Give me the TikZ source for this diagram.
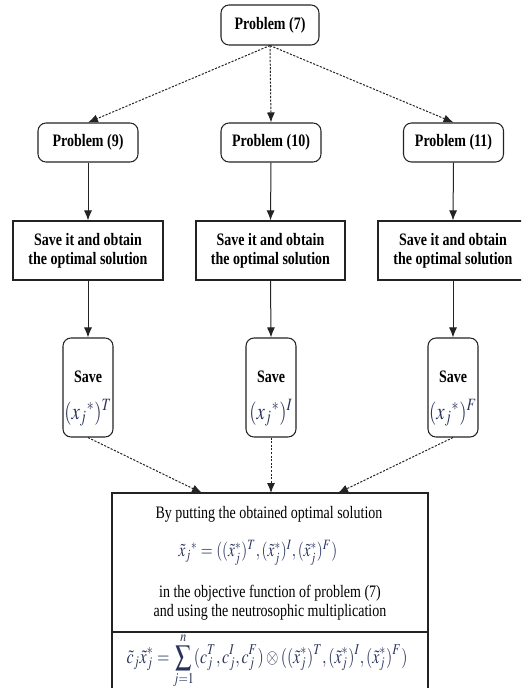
\documentclass[tikz,border=0pt]{standalone}
\usepackage{mathptmx}
\usepackage{fontspec}
\setmainfont{Liberation Serif}
\usepackage{graphicx}
\usetikzlibrary{arrows.meta}
\definecolor{mathc}{RGB}{40,50,90}
\definecolor{edgec}{RGB}{35,35,35}
\newcommand\vs[1]{\scalebox{1}[1.25]{#1}}
\tikzset{
  rbox/.style={draw=edgec, line width=0.8pt, rounded corners=6pt, inner sep=0pt, font=\fontsize{10.5}{14}\selectfont\bfseries, align=center},
  sqbox/.style={draw=edgec, line width=0.8pt, inner sep=0pt, font=\fontsize{10.5}{14.25}\selectfont\bfseries, align=center},
  plainbox/.style={draw=edgec, line width=0.8pt, inner sep=0pt},
  txt/.style={inner sep=0pt, font=\fontsize{10.5}{14}\selectfont},
  mth/.style={inner sep=0pt, text=mathc, font=\fontsize{11.5}{14}\selectfont},
  arr/.style={-{Latex[length=7.5pt,width=6pt]}, line width=0.75pt, draw=edgec},
  darr/.style={arr, dash pattern=on 1.6pt off 1.1pt},
}
\begin{document}
\begin{tikzpicture}[x=0.75pt, y=-0.75pt]
\useasboundingbox (0,0) rectangle (521,688);
\clip (0,0) rectangle (521,688);
% top
\node[rbox, minimum width=73.5pt, minimum height=30pt] (p7) at (270,25) {\vs{Problem (7)}};
% problems
\node[rbox, minimum width=75pt, minimum height=29.25pt] (p9) at (88,142.5) {\vs{Problem (9)}};
\node[rbox, minimum width=75pt, minimum height=29.25pt] (p10) at (271,142.5) {\vs{Problem (10)}};
\node[rbox, minimum width=75pt, minimum height=29.25pt] (p11) at (453.5,142.5) {\vs{Problem (11)}};
% save it boxes
\node[sqbox, minimum width=112.5pt, minimum height=44.25pt] (s1) at (88,250.5) {\vs{Save it and obtain}\\\vs{the optimal solution}};
\node[sqbox, minimum width=111.75pt, minimum height=44.25pt] (s2) at (270.5,250.5) {\vs{Save it and obtain}\\\vs{the optimal solution}};
\node[sqbox, minimum width=112.5pt, minimum height=44.25pt] (s3) at (453,250.5) {\vs{Save it and obtain}\\\vs{the optimal solution}};
% save boxes
\node[rbox, minimum width=37.5pt, minimum height=74.25pt] (v1) at (88,387.5) {};
\node[rbox, minimum width=37.5pt, minimum height=74.25pt] (v2) at (271,387.5) {};
\node[rbox, minimum width=37.5pt, minimum height=74.25pt] (v3) at (453,387.5) {};
\node[txt, font=\fontsize{10.5}{14}\selectfont\bfseries] (v1t) at (88,377) {\vs{Save}};
\node[txt, font=\fontsize{10.5}{14}\selectfont\bfseries] (v2t) at (271,377) {\vs{Save}};
\node[txt, font=\fontsize{10.5}{14}\selectfont\bfseries] (v3t) at (453,377) {\vs{Save}};
\node[mth, font=\fontsize{14}{17}\selectfont] (v1m) at (88,413) {\vs{$(x_j{}^{*})^T$}};
\node[mth, font=\fontsize{14}{17}\selectfont] (v2m) at (271,413) {\vs{$(x_j{}^{*})^I$}};
\node[mth, font=\fontsize{14}{17}\selectfont] (v3m) at (453,413) {\vs{$(x_j{}^{*})^F$}};
% bottom box
\node[plainbox, minimum width=237pt, minimum height=104.25pt] (bt) at (270,562.5) {};
\node[plainbox, minimum width=237pt, minimum height=66pt] (bb) at (270,676) {};
\node[txt] (b1) at (269,514) {\vs{By putting the obtained optimal solution}};
\node[mth, font=\fontsize{11.5}{14}\selectfont] (b2) at (258,553) {\vs{$\tilde{x}_j{}^{*}=((\tilde{x}_j^{*})^T,(\tilde{x}_j^{*})^I,(\tilde{x}_j^{*})^F)$}};
\node[txt] (b3) at (270,593) {\vs{in the objective function of problem (7)}};
\node[txt] (b4) at (270,612) {\vs{and using the neutrosophic multiplication}};
\node[mth, font=\fontsize{12}{14}\selectfont] (b5) at (267,661) {\vs{$\displaystyle \tilde{c}_j\tilde{x}_j^{*}=\sum_{j=1}^{n}(c_j^T,c_j^I,c_j^F)\otimes((\tilde{x}_j^{*})^T,(\tilde{x}_j^{*})^I,(\tilde{x}_j^{*})^F)$}};
\coordinate (in1) at (202,493);
\coordinate (in2) at (271,493);
\coordinate (in3) at (338,493);
% connectors
\draw[darr] (p7.south) -- (p9.north);
\draw[darr] (p7.south) -- (p10.north);
\draw[darr] (p7.south) -- (p11.north);
\draw[arr] (p9.south) -- (s1.north);
\draw[arr] (p10.south) -- (s2.north);
\draw[arr] (p11.south) -- (s3.north);
\draw[arr] (s1.south) -- (v1.north);
\draw[arr] (s2.south) -- (v2.north);
\draw[arr] (s3.south) -- (v3.north);
\draw[darr] (v1.south) -- (in1);
\draw[darr] (v2.south) -- (in2);
\draw[darr] (v3.south) -- (in3);
\end{tikzpicture}
\end{document}
